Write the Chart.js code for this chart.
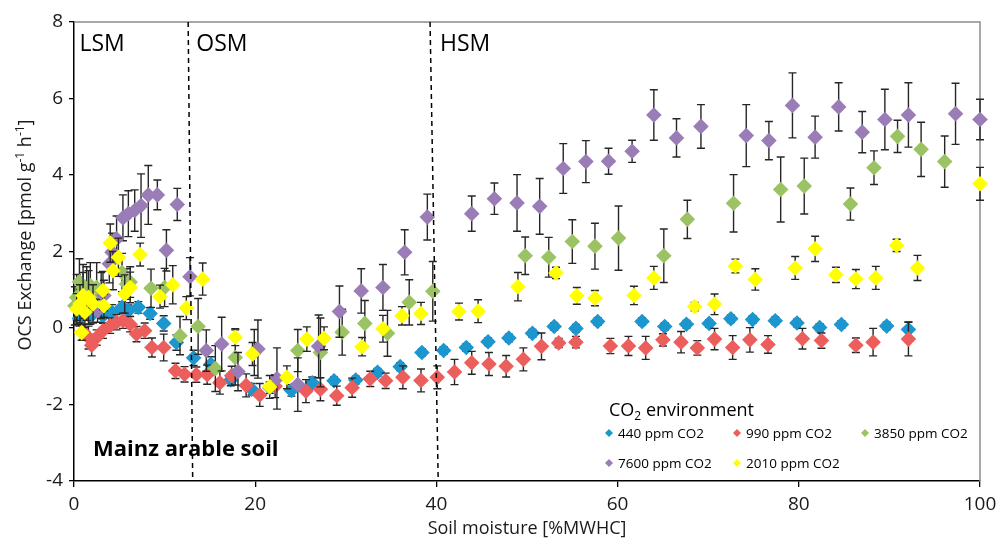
<!DOCTYPE html>
<html>
<head>
<meta charset="utf-8">
<script src="https://cdn.jsdelivr.net/npm/chart.js@4.4.1/dist/chart.umd.min.js"></script>
<style>
  html, body { margin: 0; padding: 0; background: #fff; }
</style>
</head>
<body>
<canvas id="ocsChart" width="996" height="540"></canvas>
<script>
// ---- data (x = soil moisture %MWHC, y = OCS exchange, e = error) ----
const ppm440X = [0.6, 1.8, 3.2, 4.2, 5.3, 6.0, 7.1, 8.4, 9.9, 11.3, 13.2, 15.1, 17.3, 19.6, 21.6, 24.0, 26.3, 28.7, 31.1, 33.5, 36.0, 38.4, 40.8, 43.3, 45.7, 48.0, 50.6, 53.0, 55.4, 57.8, 62.7, 65.2, 67.6, 70.1, 72.5, 74.9, 77.4, 79.8, 82.3, 84.7, 89.7, 92.1];
const ppm440Y = [0.25, 0.3, 0.32, 0.41, 0.54, 0.45, 0.54, 0.38, 0.12, -0.38, -0.78, -0.95, -1.36, -1.6, -1.56, -1.63, -1.43, -1.38, -1.36, -1.16, -1.01, -0.64, -0.59, -0.51, -0.36, -0.26, -0.14, 0.04, -0.01, 0.17, 0.17, 0.04, 0.1, 0.12, 0.24, 0.22, 0.19, 0.13, 0.01, 0.09, 0.05, -0.04];
const ppm440E = [0.2, 0.2, 0.2, 0.2, 0.15, 0.15, 0.15, 0.15, 0.2, 0.2, 0.2, 0.2, 0.15, 0.15, 0.15, 0.15, 0.15, 0.1, 0.1, 0.1, 0.1, 0.1, 0.1, 0.1, 0.1, 0.1, 0.1, 0.1, 0.1, 0.1, 0.1, 0.1, 0.1, 0.1, 0.1, 0.1, 0.1, 0.1, 0.1, 0.1, 0.1, 0.2];

const ppm990X = [1.0, 1.6, 1.95, 2.5, 3.2, 4.0, 4.7, 5.4, 6.2, 6.9, 7.8, 8.6, 9.9, 11.2, 12.2, 13.5, 14.7, 16.1, 17.4, 19.0, 20.5, 22.2, 25.6, 27.2, 29.0, 30.7, 32.7, 34.4, 36.3, 38.3, 40.1, 42.0, 43.9, 45.8, 47.7, 49.6, 51.6, 53.5, 55.4, 59.2, 61.2, 63.1, 65.0, 67.0, 68.8, 70.7, 72.7, 74.6, 76.6, 80.4, 82.5, 86.3, 88.2, 92.1];
const ppm990Y = [-0.1, -0.25, -0.45, -0.25, -0.07, 0.06, 0.15, 0.19, 0.1, -0.16, -0.07, -0.51, -0.51, -1.12, -1.21, -1.22, -1.22, -1.43, -1.25, -1.5, -1.75, -1.52, -1.65, -1.6, -1.77, -1.56, -1.33, -1.38, -1.29, -1.37, -1.29, -1.15, -0.91, -0.94, -1.0, -0.82, -0.48, -0.39, -0.37, -0.47, -0.47, -0.52, -0.31, -0.37, -0.52, -0.29, -0.51, -0.31, -0.43, -0.28, -0.33, -0.45, -0.37, -0.29];
const ppm990E = [0.2, 0.3, 0.28, 0.2, 0.2, 0.2, 0.2, 0.2, 0.2, 0.2, 0.2, 0.25, 0.35, 0.2, 0.2, 0.2, 0.25, 0.3, 0.25, 0.3, 0.3, 0.3, 0.3, 0.3, 0.25, 0.25, 0.2, 0.2, 0.3, 0.3, 0.3, 0.33, 0.3, 0.3, 0.28, 0.3, 0.35, 0.12, 0.15, 0.2, 0.25, 0.3, 0.16, 0.28, 0.19, 0.28, 0.31, 0.32, 0.23, 0.27, 0.2, 0.19, 0.36, 0.44];

const ppm3850X = [0.1, 0.3, 0.6, 1.0, 1.4, 1.8, 2.5, 3.0, 5.3, 5.8, 6.2, 8.5, 10.0, 11.7, 13.7, 15.6, 17.8, 19.9, 24.7, 27.2, 29.6, 32.1, 34.6, 37.0, 39.6, 49.8, 52.4, 55.0, 57.5, 60.1, 65.1, 67.7, 72.8, 78.0, 80.6, 85.7, 88.3, 90.9, 93.5, 96.1];
const ppm3850Y = [0.58, 0.8, 1.21, 1.06, 0.9, 1.11, 1.06, 0.85, 1.45, 1.15, 1.2, 1.04, 1.06, -0.2, 0.04, -1.06, -0.77, -0.64, -0.59, -0.64, -0.11, 0.12, -0.14, 0.67, 0.96, 1.89, 1.85, 2.26, 2.14, 2.35, 1.89, 2.84, 3.26, 3.62, 3.71, 3.24, 4.19, 5.01, 4.67, 4.35];
const ppm3850E = [0.5, 0.6, 0.6, 0.6, 0.7, 0.6, 0.65, 0.6, 0.5, 0.4, 0.4, 0.5, 0.5, 0.5, 0.73, 0.6, 0.72, 0.6, 0.55, 0.9, 0.6, 0.6, 0.6, 0.59, 0.78, 0.49, 0.52, 0.57, 0.6, 0.84, 0.7, 0.5, 0.75, 0.85, 0.73, 0.42, 0.44, 0.42, 0.71, 0.67];

const ppm7600X = [2.6, 3.3, 3.9, 4.2, 4.7, 5.4, 6.0, 6.7, 7.4, 8.2, 9.2, 10.2, 11.4, 12.8, 14.6, 16.3, 18.1, 20.3, 22.4, 24.7, 27.0, 29.3, 31.7, 34.1, 36.5, 39.0, 43.9, 46.4, 48.9, 51.4, 54.0, 56.5, 59.0, 61.6, 64.0, 66.5, 69.2, 74.2, 76.7, 79.3, 81.8, 84.4, 87.0, 89.5, 92.1, 97.3, 100];
const ppm7600Y = [0.45, 0.85, 1.68, 1.98, 2.33, 2.88, 2.99, 3.07, 3.2, 3.48, 3.48, 2.03, 3.23, 1.34, -0.59, -0.42, -1.14, -0.55, -1.32, -1.48, -0.48, 0.43, 0.97, 1.06, 1.98, 2.9, 2.99, 3.38, 3.27, 3.18, 4.17, 4.35, 4.36, 4.62, 5.57, 4.97, 5.27, 5.03, 4.9, 5.82, 4.99, 5.78, 5.12, 5.45, 5.57, 5.6, 5.45];
const ppm7600E = [0.3, 0.4, 0.5, 0.5, 0.6, 0.6, 0.6, 0.54, 0.83, 0.77, 0.39, 0.54, 0.42, 0.5, 0.54, 0.7, 0.5, 0.76, 0.8, 0.7, 0.82, 0.67, 0.58, 0.6, 0.59, 0.6, 0.46, 0.41, 0.74, 0.73, 0.65, 0.55, 0.34, 0.29, 0.66, 0.5, 0.57, 0.81, 0.5, 0.85, 0.55, 0.63, 0.54, 0.79, 0.84, 0.8, 0.53];

const ppm2010X = [0.3, 0.66, 0.85, 1.0, 1.2, 1.6, 2.1, 3.2, 3.3, 4.0, 4.3, 4.9, 5.6, 6.2, 7.3, 9.5, 10.9, 12.4, 14.2, 17.8, 19.7, 21.6, 23.5, 25.7, 27.6, 31.8, 34.1, 36.2, 38.3, 42.5, 44.6, 49.0, 53.2, 55.5, 57.5, 61.8, 64.0, 68.5, 70.7, 73.0, 75.2, 79.6, 81.8, 84.1, 86.3, 88.5, 90.8, 93.1, 100];
const ppm2010Y = [0.5, 0.63, -0.12, 0.85, 0.41, 0.8, 0.63, 0.98, 0.58, 2.22, 1.5, 1.85, 0.89, 1.06, 1.92, 0.82, 1.13, 0.52, 1.28, -0.24, -0.68, -1.54, -1.29, -0.29, -0.27, -0.49, -0.02, 0.32, 0.38, 0.43, 0.44, 1.08, 1.44, 0.84, 0.78, 0.85, 1.31, 0.56, 0.62, 1.62, 1.27, 1.57, 2.07, 1.39, 1.28, 1.31, 2.16, 1.57, 3.77];
const ppm2010E = [0.4, 0.5, 0.2, 0.6, 0.4, 0.7, 0.5, 0.5, 0.3, 0.5, 0.5, 0.5, 0.5, 0.4, 0.3, 0.3, 0.5, 0.3, 0.42, 0.22, 0.3, 0.3, 0.3, 0.32, 0.3, 0.24, 0.35, 0.24, 0.29, 0.22, 0.3, 0.37, 0.15, 0.22, 0.2, 0.24, 0.3, 0.11, 0.27, 0.18, 0.28, 0.3, 0.33, 0.2, 0.25, 0.3, 0.16, 0.33, 0.43];

const seriesLabels = ["440 ppm CO2", "990 ppm CO2", "3850 ppm CO2", "7600 ppm CO2", "2010 ppm CO2"];
const seriesColors = ["#1C96CE", "#EB5E5B", "#9BC363", "#9A7CB7", "#FFFF00"];

const xTicks = [0, 20, 40, 60, 80, 100];
const yTicks = [-4, -2, 0, 2, 4, 6, 8];
// moisture regime boundaries (dashed lines, slightly slanted as in the figure)
const regimeLines = [[12.6, 13.1], [39.3, 40.2]];
const regimeLabels = [["LSM", 0.6], ["OSM", 13.5], ["HSM", 40.4]];

const FONT = "'Open Sans', 'Liberation Sans', sans-serif";

const toPoints = (xs, ys, es) => xs.map((x, i) => ({ x: x, y: ys[i], e: es[i] }));

const allX = [ppm440X, ppm990X, ppm3850X, ppm7600X, ppm2010X];
const allY = [ppm440Y, ppm990Y, ppm3850Y, ppm7600Y, ppm2010Y];
const allE = [ppm440E, ppm990E, ppm3850E, ppm7600E, ppm2010E];
// later series sit on top, like in the original spreadsheet chart
const drawOrder = [5, 4, 3, 2, 1];

const datasets = seriesLabels.map((label, i) => ({
  label: label,
  data: toPoints(allX[i], allY[i], allE[i]),
  backgroundColor: seriesColors[i],
  borderColor: seriesColors[i],
  pointStyle: "rectRot",
  pointRadius: 7.8,
  pointHoverRadius: 7.8,
  pointBorderWidth: 0,
  showLine: false,
  clip: false,
  order: drawOrder[i],
}));

// frame: grey top/right border of the plot area
const plotFrame = {
  id: "plotFrame",
  beforeDatasetsDraw: (chart) => {
    const { ctx, chartArea } = chart;
    ctx.save();
    ctx.strokeStyle = "#8c8c8c";
    ctx.lineWidth = 1.5;
    ctx.beginPath();
    ctx.moveTo(chartArea.left, chartArea.top);
    ctx.lineTo(chartArea.right, chartArea.top);
    ctx.lineTo(chartArea.right, chartArea.bottom);
    ctx.stroke();
    ctx.restore();
  },
};

// symmetric error bars with caps, drawn just under each series' markers
const errorBars = {
  id: "errorBars",
  beforeDatasetDraw: (chart, args) => {
    const ds = chart.data.datasets[args.index];
    const ctx = chart.ctx;
    const xs = chart.scales.x;
    const ys = chart.scales.y;
    ctx.save();
    ctx.strokeStyle = "#262626";
    ctx.lineWidth = 1.4;
    ds.data.forEach((p) => {
      if (!p.e) return;
      const px = xs.getPixelForValue(p.x);
      const top = ys.getPixelForValue(p.y + p.e);
      const bot = ys.getPixelForValue(p.y - p.e);
      ctx.beginPath();
      ctx.moveTo(px, top);
      ctx.lineTo(px, bot);
      ctx.moveTo(px - 4, top);
      ctx.lineTo(px + 4, top);
      ctx.moveTo(px - 4, bot);
      ctx.lineTo(px + 4, bot);
      ctx.stroke();
    });
    ctx.restore();
  },
};

// dashed regime lines, region names and the soil label
const annotations = {
  id: "annotations",
  afterDatasetsDraw: (chart) => {
    const ctx = chart.ctx;
    const xs = chart.scales.x;
    const ys = chart.scales.y;
    ctx.save();
    ctx.strokeStyle = "#000";
    ctx.lineWidth = 1.5;
    ctx.setLineDash([5, 4]);
    regimeLines.forEach(([xTop, xBot]) => {
      ctx.beginPath();
      ctx.moveTo(xs.getPixelForValue(xTop), ys.getPixelForValue(8));
      ctx.lineTo(xs.getPixelForValue(xBot), ys.getPixelForValue(-4));
      ctx.stroke();
    });
    ctx.setLineDash([]);

    ctx.fillStyle = "#000";
    ctx.textBaseline = "middle";
    ctx.textAlign = "left";
    ctx.font = "23px " + FONT;
    regimeLabels.forEach(([txt, x]) => {
      ctx.fillText(txt, xs.getPixelForValue(x), ys.getPixelForValue(7.42));
    });
    ctx.font = "bold 22px " + FONT;
    ctx.fillText("Mainz arable soil", xs.getPixelForValue(2.1), ys.getPixelForValue(-3.19));
    ctx.restore();
  },
};

// axis titles (with super/subscripts) and the in-plot legend
const textLayer = {
  id: "textLayer",
  afterDraw: (chart) => {
    const { ctx, chartArea } = chart;
    ctx.save();
    ctx.fillStyle = "#1a1a1a";
    ctx.textBaseline = "alphabetic";

    // x title
    ctx.font = "18px " + FONT;
    ctx.textAlign = "center";
    ctx.fillText("Soil moisture [%MWHC]", (chartArea.left + chartArea.right) / 2, 534);

    // y title, rotated, with superscript -1
    const parts = [
      ["OCS Exchange [pmol g", 0],
      ["-1", 1],
      [" h", 0],
      ["-1", 1],
      ["]", 0],
    ];
    const big = "18px " + FONT;
    const small = "12px " + FONT;
    let total = 0;
    parts.forEach(([t, sup]) => {
      ctx.font = sup ? small : big;
      total += ctx.measureText(t).width;
    });
    ctx.translate(31, 235);
    ctx.rotate(-Math.PI / 2);
    ctx.textAlign = "left";
    let cx = -total / 2;
    parts.forEach(([t, sup]) => {
      ctx.font = sup ? small : big;
      ctx.fillText(t, cx, sup ? -7 : 0);
      cx += ctx.measureText(t).width;
    });
    ctx.setTransform(1, 0, 0, 1, 0, 0);

    // legend
    const lx = 609;
    ctx.font = "18px " + FONT;
    ctx.textAlign = "left";
    ctx.fillStyle = "#000";
    ctx.fillText("CO", lx, 416);
    let w = ctx.measureText("CO").width;
    ctx.font = "12px " + FONT;
    ctx.fillText("2", lx + w, 420);
    w += ctx.measureText("2").width;
    ctx.font = "18px " + FONT;
    ctx.fillText(" environment", lx + w, 416);

    const cols = [609, 737, 865];
    const rows = [433, 463];
    ctx.font = "13.5px " + FONT;
    ctx.textBaseline = "middle";
    chart.data.datasets.forEach((ds, i) => {
      const mx = cols[i % 3];
      const my = rows[Math.floor(i / 3)];
      ctx.fillStyle = ds.backgroundColor;
      ctx.beginPath();
      ctx.moveTo(mx - 4, my);
      ctx.lineTo(mx, my - 4);
      ctx.lineTo(mx + 4, my);
      ctx.lineTo(mx, my + 4);
      ctx.closePath();
      ctx.fill();
      ctx.fillStyle = "#000";
      ctx.fillText(ds.label, mx + 9, my + 1);
    });
    ctx.restore();
  },
};

const ocsChart = new Chart(document.getElementById("ocsChart").getContext("2d"), {
  type: "scatter",
  data: { datasets: datasets },
  plugins: [plotFrame, errorBars, annotations, textLayer],
  options: {
    responsive: false,
    animation: false,
    layout: { padding: { top: 22, right: 16, left: 0, bottom: 0 } },
    plugins: {
      legend: { display: false },
      tooltip: { enabled: false },
    },
    scales: {
      x: {
        type: "linear",
        min: 0,
        max: 100,
        afterFit: (scale) => {
          scale.height = 59;
          scale.paddingLeft = 0;
          scale.paddingRight = 0;
        },
        afterBuildTicks: (scale) => {
          scale.ticks = xTicks.map((v) => ({ value: v }));
        },
        grid: { drawOnChartArea: false, color: "#000", tickLength: 6, lineWidth: 1.3 },
        border: { color: "#000", width: 1.5 },
        ticks: { font: { family: FONT, size: 19 }, color: "#1a1a1a", padding: 6, maxRotation: 0 },
      },
      y: {
        type: "linear",
        min: -4,
        max: 8,
        afterFit: (scale) => {
          scale.width = 74;
          scale.paddingTop = 0;
          scale.paddingBottom = 0;
        },
        afterBuildTicks: (scale) => {
          scale.ticks = yTicks.map((v) => ({ value: v }));
        },
        grid: { drawOnChartArea: false, color: "#000", tickLength: 5, lineWidth: 1.3 },
        border: { color: "#000", width: 1.5 },
        ticks: { font: { family: FONT, size: 19 }, color: "#1a1a1a", padding: 6 },
      },
    },
  },
});
</script>
</body>
</html>
